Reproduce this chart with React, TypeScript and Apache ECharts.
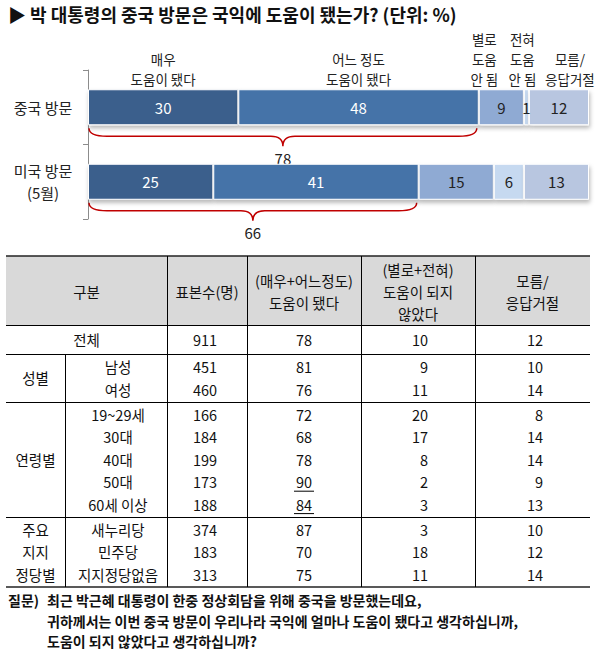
import React, { useEffect, useRef } from 'react';
import * as echarts from 'echarts';

// ---------- data ----------
const categories = ['중국 방문', '미국 방문\n(5월)'];
const responseLabels = ['매우\n도움이 됐다', '어느 정도\n도움이 됐다', '별로\n도움\n안 됨', '전혀\n도움\n안 됨', '모름/\n응답거절'];
const veryHelpful = [30, 25];
const somewhatHelpful = [48, 41];
const notVeryHelpful = [9, 15];
const notAtAllHelpful = [1, 6];
const dontKnow = [12, 13];
const helpfulTotal = [78, 66];

const tableHeaders = ['구분', '표본수(명)', '(매우+어느정도)\n도움이 됐다', '(별로+전혀)\n도움이 되지\n않았다', '모름/\n응답거절'];
const groupNames = ['전체', '성별', '연령별', '주요\n지지\n정당별'];
const subgroupLabels = ['전체', '남성', '여성', '19~29세', '30대', '40대', '50대', '60세 이상', '새누리당', '민주당', '지지정당없음'];
const rowGroupIndex = [0, 1, 1, 2, 2, 2, 2, 2, 3, 3, 3];
const sampleSizes = [911, 451, 460, 166, 184, 199, 173, 188, 374, 183, 313];
const helpfulPct = [78, 81, 76, 72, 68, 78, 90, 84, 87, 70, 75];
const notHelpfulPct = [10, 9, 11, 20, 17, 8, 2, 3, 3, 18, 11];
const noAnswerPct = [12, 10, 14, 8, 14, 14, 9, 13, 10, 12, 14];
const underlinedRows = [6, 7];

const titleText = '▶ 박 대통령의 중국 방문은 국익에 도움이 됐는가? (단위: %)';
const questionLabel = '질문)';
const questionLines = [
  '최근 박근혜 대통령이 한중 정상회담을 위해 중국을 방문했는데요,',
  '귀하께서는 이번 중국 방문이 우리나라 국익에 얼마나 도움이 됐다고 생각하십니까,',
  '도움이 되지 않았다고 생각하십니까?',
];

// ---------- styles / layout ----------
const FONT = '"Noto Sans CJK KR", "Noto Sans", sans-serif';
const W = 603;
const H = 650;
const BAR_W = 36;
const segColors = ['#3B5E8C', '#4573A8', '#8FAAD3', '#C6D9F0', '#B8C6E0'];
const segLabelColors = ['#ffffff', '#ffffff', '#222222', '#222222', '#222222'];
const headerLabelDx = [0, 0, -17, -4, 11];

const colEdges = [6, 167, 247, 361, 475, 590];
const subSplitX = 65;
const tableTop = 256;
const headerBottom = 325;
const totalRowH = 29;
const rowH = 22.4;
const groupPad = 1.5;

function buildGraphic() {
  const g: any[] = [];
  const text = (x: number, y: number, t: string, o: any = {}) =>
    g.push({
      type: 'text',
      x,
      y,
      silent: true,
      style: {
        text: t,
        fill: o.color || '#111',
        fontSize: o.size || 14,
        fontWeight: o.weight || 'normal',
        fontFamily: FONT,
        align: o.align || 'center',
        verticalAlign: o.va || 'middle',
        lineHeight: o.lh || 22,
      },
    });
  const line = (x1: number, y1: number, x2: number, y2: number, w = 1, c = '#000') =>
    g.push({ type: 'line', silent: true, shape: { x1, y1, x2, y2 }, style: { stroke: c, lineWidth: w } });

  // title
  text(8, 14, titleText, { align: 'left', size: 18, weight: 'bold', color: '#111' });

  // table header background
  g.push({
    type: 'rect',
    silent: true,
    shape: { x: colEdges[0], y: tableTop, width: colEdges[5] - colEdges[0], height: headerBottom - tableTop },
    style: { fill: '#D9D9D9' },
  });
  const headerMid = (tableTop + headerBottom) / 2;
  tableHeaders.forEach((h, i) => {
    const cx = (colEdges[i] + colEdges[i + 1]) / 2;
    text(cx, headerMid + 1, h, { size: 14.5, lh: 22 });
  });

  // group boxes
  const groupCounts = groupNames.map((_, gi) => rowGroupIndex.filter((r) => r === gi).length);
  const groupTops: number[] = [];
  const groupHeights: number[] = [];
  let y = headerBottom;
  groupCounts.forEach((n, gi) => {
    const h = gi === 0 ? totalRowH : n * rowH + groupPad * 2;
    groupTops.push(y);
    groupHeights.push(h);
    y += h;
  });
  const tableBottom = y;

  // row centers
  const rowCenters: number[] = [];
  const seen = groupNames.map(() => 0);
  rowGroupIndex.forEach((gi) => {
    const n = groupCounts[gi];
    const k = seen[gi]++;
    rowCenters.push(groupTops[gi] + groupHeights[gi] / 2 + (k - (n - 1) / 2) * rowH);
  });

  // group labels
  groupNames.forEach((name, gi) => {
    if (gi === 0) return;
    const cy = groupTops[gi] + groupHeights[gi] / 2;
    text((colEdges[0] + subSplitX) / 2, cy, name, { lh: rowH, size: 14.5 });
  });

  const col4Right = 428;
  const col5Right = 543;
  const fs = 14.5;
  subgroupLabels.forEach((lab, r) => {
    const cy = rowCenters[r];
    if (rowGroupIndex[r] === 0) text((colEdges[0] + colEdges[1]) / 2, cy, lab, { size: fs });
    else text((subSplitX + colEdges[1]) / 2 + 2, cy, lab, { size: fs });
    text((colEdges[1] + colEdges[2]) / 2 - 2, cy, String(sampleSizes[r]), { size: fs });
    const c3 = (colEdges[2] + colEdges[3]) / 2;
    text(c3, cy, String(helpfulPct[r]), { size: fs });
    if (underlinedRows.includes(r)) line(c3 - 10, cy + 9.5, c3 + 10, cy + 9.5, 1, '#000');
    text(col4Right, cy, String(notHelpfulPct[r]), { align: 'right', size: fs });
    text(col5Right, cy, String(noAnswerPct[r]), { align: 'right', size: fs });
  });

  // horizontal lines
  line(colEdges[0], tableTop, colEdges[5], tableTop, 1.6, '#222');
  line(colEdges[0], headerBottom + 0.5, colEdges[5], headerBottom + 0.5, 1);
  groupTops.slice(1).forEach((gy) => line(colEdges[0], Math.round(gy) + 0.5, colEdges[5], Math.round(gy) + 0.5, 1));
  line(colEdges[0], tableBottom, colEdges[5], tableBottom, 1.6, '#222');
  // vertical lines
  colEdges.slice(1, 5).forEach((cx) => line(cx + 0.5, tableTop, cx + 0.5, tableBottom, 1));
  line(subSplitX + 0.5, groupTops[1], subSplitX + 0.5, tableBottom, 1);

  // question footer
  text(8, 600, questionLabel, { align: 'left', size: 14, weight: 'bold' });
  questionLines.forEach((l, i) => text(47, 600 + i * 20.5, l, { align: 'left', size: 14, weight: 'bold', lh: 18 }));

  return g;
}

function buildOption() {
  const segments = [veryHelpful, somewhatHelpful, notVeryHelpful, notAtAllHelpful, dontKnow];
  const barSeries = segments.map((vals, i) => ({
    type: 'bar',
    name: responseLabels[i],
    stack: 'total',
    barWidth: BAR_W,
    data: vals,
    itemStyle: {
      color: segColors[i],
      borderColor: '#ffffff',
      borderWidth: 1,
      shadowColor: 'rgba(0,0,0,0.28)',
      shadowBlur: 4,
      shadowOffsetX: 1,
      shadowOffsetY: 3,
    },
    label: {
      show: true,
      position: 'inside',
      color: segLabelColors[i],
      fontSize: 15,
      fontFamily: FONT,
    },
  }));

  // header labels above first bar (from cumulative values of first category)
  const headerData: number[][] = [];
  let acc = 0;
  segments.forEach((vals) => {
    headerData.push([acc, acc + vals[0], 0]);
    acc += vals[0];
  });

  const headerSeries = {
    type: 'custom',
    clip: false,
    silent: true,
    encode: { x: [0, 1], y: 2 },
    data: headerData,
    renderItem: (params: any, api: any) => {
      const s = api.value(0);
      const e = api.value(1);
      const c = api.value(2);
      const p = api.coord([(s + e) / 2, c]);
      const idx = params.dataIndex;
      return {
        type: 'text',
        x: p[0] + headerLabelDx[idx],
        y: p[1] - BAR_W / 2,
        style: {
          text: responseLabels[idx],
          fill: '#222',
          fontSize: 13.5,
          fontFamily: FONT,
          align: 'center',
          verticalAlign: 'bottom',
          lineHeight: 20,
        },
      };
    },
  };

  const braceSeries = {
    type: 'custom',
    clip: false,
    silent: true,
    encode: { x: [0, 1], y: 2 },
    data: helpfulTotal.map((v, i) => [0, v, i]),
    renderItem: (params: any, api: any) => {
      const c = api.value(2);
      const p0 = api.coord([api.value(0), c]);
      const p1 = api.coord([api.value(1), c]);
      const x0 = p0[0] + 1;
      const x1 = p1[0] - 2;
      const y0 = p0[1] + BAR_W / 2 + 3;
      const ym = y0 + 8;
      const yt = y0 + 18;
      const mx = (x0 + x1) / 2;
      const re = 18;
      const rm = 12;
      const d =
        `M${x0},${y0} Q${x0},${ym} ${x0 + re},${ym} L${mx - rm},${ym} Q${mx},${ym} ${mx},${yt} ` +
        `Q${mx},${ym} ${mx + rm},${ym} L${x1 - re},${ym} Q${x1},${ym} ${x1},${y0}`;
      return {
        type: 'group',
        children: [
          {
            type: 'path',
            shape: { pathData: d },
            style: { fill: 'none', stroke: '#C00000', lineWidth: 1.5 },
          },
          {
            type: 'text',
            x: mx,
            y: yt + 12,
            style: {
              text: String(helpfulTotal[params.dataIndex]),
              fill: '#222',
              fontSize: 15,
              fontFamily: FONT,
              align: 'center',
              verticalAlign: 'middle',
            },
          },
        ],
      };
    },
  };

  return {
    animation: false,
    backgroundColor: '#ffffff',
    textStyle: { fontFamily: FONT },
    grid: { left: 88, top: 70, width: 501, height: 149, containLabel: false },
    xAxis: { type: 'value', min: 0, max: 100, show: false },
    yAxis: {
      type: 'category',
      inverse: true,
      data: categories,
      axisLine: { show: true, lineStyle: { color: '#8C8C8C', width: 1 } },
      axisTick: { show: true, length: 5, lineStyle: { color: '#8C8C8C' } },
      axisLabel: { align: 'center', margin: 45, fontSize: 15, lineHeight: 22, color: '#222', fontFamily: FONT },
    },
    series: [...barSeries, headerSeries, braceSeries],
    graphic: buildGraphic(),
  };
}

export default function App() {
  const ref = useRef<HTMLDivElement>(null);
  useEffect(() => {
    const chart = echarts.init(ref.current as HTMLDivElement, null, { renderer: 'svg' });
    chart.setOption(buildOption() as any);
    return () => chart.dispose();
  }, []);
  return (
    <div
      ref={ref}
      style={{ position: 'absolute', left: 0, top: 0, width: W, height: H, background: '#fff' }}
    />
  );
}
